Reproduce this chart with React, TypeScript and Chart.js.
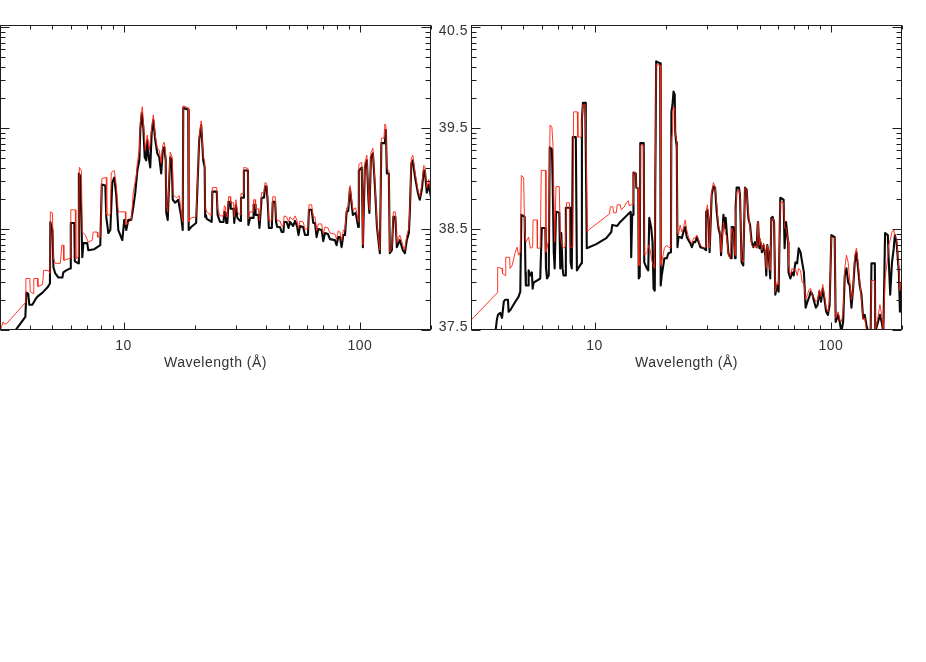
import React, { useEffect, useRef } from 'react';
import { Chart, registerables } from 'chart.js';

Chart.register(...registerables);

// ---- axis settings / labels ----
const X_MIN = 3;
const X_MAX = 200;
const Y_MIN = 37.5;
const Y_MAX = 40.52;
const xMajorTicks = [10, 100];
const xTickLabels = ['10', '100'];
const xMinorTicks = [4, 5, 6, 7, 8, 9, 20, 30, 40, 50, 60, 70, 80, 90, 200];
const yMajorTicks = [37.5, 38.5, 39.5, 40.5];
const yTickLabels = ['37.5', '38.5', '39.5', '40.5'];
const xTitle = 'Wavelength (Å)';

// ---- left panel: [wavelength (Å), value] ----
const leftBlack: [number, number][] = [
  [3.47, 37.49], [3.84, 37.63], [3.88, 37.87], [3.95, 37.86], [3.99, 37.75], [4.11, 37.75], [4.23, 37.80], [4.32, 37.83], [4.54, 37.87], [4.76, 37.92],
  [4.88, 37.96], [4.90, 38.57], [5.00, 38.49], [5.05, 38.12], [5.14, 38.06], [5.30, 38.02], [5.51, 38.02], [5.56, 38.07], [5.72, 38.09], [5.95, 38.11],
  [5.98, 38.56], [6.19, 38.56], [6.22, 38.18], [6.44, 38.16], [6.47, 39.05], [6.56, 39.02], [6.69, 38.22], [6.76, 38.36], [7.02, 38.36], [7.09, 38.29],
  [7.52, 38.30], [7.97, 38.34], [8.09, 38.94], [8.37, 38.93], [8.45, 38.62], [8.62, 38.46], [8.79, 38.49], [8.96, 38.96], [9.13, 39.01], [9.31, 38.84],
  [9.50, 38.49], [9.88, 38.39], [10.07, 38.59], [10.27, 38.49], [10.47, 38.59], [10.78, 38.59], [11.0, 38.72], [11.21, 38.86], [11.44, 39.08], [11.66, 39.18],
  [11.77, 39.48], [11.94, 39.65], [12.12, 39.51], [12.29, 39.21], [12.47, 39.18], [12.59, 39.38], [12.78, 39.21], [12.97, 39.11], [13.16, 39.46], [13.36, 39.58],
  [13.62, 39.38], [13.89, 39.25], [14.16, 39.21], [14.43, 39.05], [14.65, 39.28], [14.87, 39.31], [15.08, 39.18], [15.16, 38.66], [15.38, 38.59], [15.53, 38.86],
  [15.76, 39.21], [15.99, 39.18], [16.15, 38.79], [16.54, 38.76], [17.04, 38.79], [17.54, 38.62], [17.80, 38.49], [17.89, 39.70], [18.77, 39.68], [18.86, 38.49],
  [19.32, 38.52], [20.28, 38.56], [20.89, 39.38], [21.31, 39.53], [21.73, 39.18], [22.04, 39.11], [22.15, 38.62], [22.3, 38.64], [22.5, 38.60], [23.6, 38.57],
  [23.75, 38.87], [24.8, 38.87], [25.0, 38.64], [25.6, 38.57], [26.5, 38.57], [26.7, 38.67], [27.0, 38.66], [27.2, 38.56], [27.5, 38.56], [27.8, 38.77],
  [28.25, 38.77], [28.4, 38.70], [29.2, 38.70], [29.4, 38.56], [29.9, 38.74], [30.3, 38.61], [31.1, 38.58], [31.4, 38.81], [32.1, 38.81], [32.3, 39.08],
  [33.6, 39.08], [33.75, 38.54], [34.3, 38.61], [35.4, 38.61], [35.5, 38.74], [36.0, 38.74], [36.2, 38.64], [37.2, 38.64], [37.6, 38.51], [38.4, 38.81],
  [39.3, 38.81], [39.7, 38.92], [40.3, 38.92], [40.8, 38.74], [41.2, 38.51], [42.4, 38.51], [42.8, 38.77], [43.8, 38.77], [44.2, 38.57], [44.7, 38.52],
  [45.9, 38.52], [46.7, 38.47], [47.5, 38.47], [47.8, 38.57], [49.0, 38.57], [49.9, 38.51], [50.6, 38.57], [52.2, 38.53], [53.2, 38.58], [54.3, 38.52],
  [55.0, 38.44], [55.8, 38.53], [57.5, 38.52], [58.6, 38.44], [60.3, 38.44], [60.9, 38.69], [62.5, 38.69], [63.5, 38.56], [64.6, 38.56], [65.6, 38.42],
  [66.7, 38.50], [68.9, 38.49], [70.0, 38.38], [71.2, 38.46], [73.3, 38.45], [74.7, 38.40], [78.4, 38.39], [79.7, 38.34], [81.0, 38.42], [82.4, 38.42],
  [83.7, 38.32], [85.1, 38.44], [86.5, 38.44], [87.9, 38.67], [89.3, 38.68], [90.8, 38.90], [93.4, 38.64], [96.0, 38.66], [98.4, 38.52], [99.0, 39.08],
  [101.9, 39.11], [103.0, 38.32], [105.0, 39.11], [107.1, 39.18], [108.7, 38.79], [109.7, 38.66], [111.4, 39.21], [113.6, 39.25], [115.8, 38.92], [118.1, 38.52],
  [121.5, 38.26], [123.3, 39.35], [127.6, 39.35], [128.8, 39.48], [130.1, 39.05], [132.6, 39.05], [133.9, 38.26], [136.6, 38.29], [138.6, 38.62], [141.3, 38.62],
  [143.4, 38.32], [147.6, 38.39], [152.0, 38.29], [155.0, 38.26], [158.0, 38.39], [161.2, 38.46], [162.7, 38.66], [165.1, 39.15], [167.5, 39.18], [170.8, 39.03],
  [175.9, 38.86], [179.3, 38.79], [182.9, 38.89], [186.5, 39.08], [188.3, 39.08], [192.0, 38.86], [195.8, 38.94], [199.6, 38.82],
];

const leftRed: [number, number][] = [
  [3.01, 37.49], [3.09, 37.58], [3.13, 37.56], [3.19, 37.56], [3.84, 37.77], [3.86, 38.01], [4.01, 38.01], [4.03, 37.88], [4.15, 37.86], [4.17, 38.01],
  [4.32, 38.01], [4.34, 37.93], [4.54, 37.95], [4.59, 38.09], [4.81, 38.09], [4.88, 38.06], [4.90, 38.67], [5.00, 38.66], [5.05, 38.21], [5.14, 38.16],
  [5.40, 38.16], [5.48, 38.34], [5.56, 38.34], [5.59, 38.19], [5.95, 38.21], [5.98, 38.69], [6.25, 38.69], [6.28, 38.21], [6.44, 38.22], [6.50, 39.11],
  [6.63, 39.08], [6.69, 38.47], [6.89, 38.44], [7.09, 38.37], [7.37, 38.39], [7.44, 38.47], [7.74, 38.47], [7.78, 38.42], [8.01, 38.42], [8.09, 39.00],
  [8.45, 39.01], [8.49, 38.64], [8.79, 38.64], [8.87, 39.06], [9.13, 39.08], [9.31, 38.94], [9.50, 38.67], [10.17, 38.67], [10.22, 38.54], [10.57, 38.57],
  [10.78, 38.59], [11.0, 38.87], [11.32, 39.03], [11.44, 39.16], [11.66, 39.28], [11.77, 39.56], [12.0, 39.71], [12.12, 39.58], [12.35, 39.28], [12.59, 39.43],
  [12.84, 39.28], [13.16, 39.50], [13.36, 39.63], [13.62, 39.43], [13.89, 39.30], [14.16, 39.28], [14.43, 39.15], [14.65, 39.33], [14.87, 39.36], [15.08, 39.23],
  [15.16, 38.74], [15.38, 38.67], [15.53, 38.92], [15.76, 39.26], [16.07, 39.21], [16.23, 38.84], [16.71, 38.81], [17.20, 38.83], [17.54, 38.67], [17.80, 38.57],
  [17.89, 39.72], [18.77, 39.70], [18.86, 38.57], [19.32, 38.61], [20.28, 38.62], [20.89, 39.41], [21.31, 39.57], [21.73, 39.21], [22.04, 39.18], [22.15, 38.69],
  [22.3, 38.70], [22.5, 38.67], [23.6, 38.63], [23.75, 38.91], [24.8, 38.91], [25.0, 38.70], [25.6, 38.63], [26.5, 38.63], [26.7, 38.73], [27.0, 38.72],
  [27.2, 38.62], [27.5, 38.62], [27.8, 38.82], [28.25, 38.82], [28.4, 38.76], [29.2, 38.76], [29.4, 38.62], [29.9, 38.79], [30.3, 38.67], [31.1, 38.64],
  [31.4, 38.85], [32.1, 38.85], [32.3, 39.11], [33.6, 39.10], [33.75, 38.60], [34.3, 38.67], [35.4, 38.67], [35.5, 38.79], [36.0, 38.79], [36.2, 38.70],
  [37.2, 38.70], [37.6, 38.58], [38.4, 38.86], [39.3, 38.86], [39.7, 38.96], [40.3, 38.95], [40.8, 38.80], [41.2, 38.58], [42.4, 38.58], [42.8, 38.82],
  [43.8, 38.82], [44.2, 38.63], [44.7, 38.58], [45.9, 38.58], [46.7, 38.53], [47.5, 38.53], [47.8, 38.63], [49.0, 38.62], [49.9, 38.57], [50.6, 38.62],
  [52.2, 38.59], [53.2, 38.63], [54.3, 38.58], [55.0, 38.50], [55.8, 38.58], [57.5, 38.57], [58.6, 38.50], [60.3, 38.50], [60.9, 38.74], [62.5, 38.74],
  [63.5, 38.62], [64.6, 38.62], [65.6, 38.48], [66.7, 38.55], [68.9, 38.55], [70.0, 38.45], [71.2, 38.52], [73.3, 38.51], [74.7, 38.46], [78.4, 38.45],
  [79.7, 38.40], [81.0, 38.48], [82.4, 38.47], [83.7, 38.38], [85.1, 38.49], [86.5, 38.49], [87.9, 38.71], [89.3, 38.72], [90.8, 38.93], [93.4, 38.69],
  [96.0, 38.71], [98.4, 38.57], [99.0, 39.14], [101.9, 39.16], [103.0, 38.34], [105.0, 39.16], [107.1, 39.23], [108.7, 38.84], [109.7, 38.69], [111.4, 39.26],
  [113.6, 39.30], [115.8, 38.97], [118.1, 38.55], [121.5, 38.29], [123.3, 39.40], [126.4, 39.40], [127.6, 39.54], [128.8, 39.52], [130.1, 39.10], [132.6, 39.08],
  [133.9, 38.27], [136.6, 38.32], [138.6, 38.67], [141.3, 38.67], [143.4, 38.36], [147.6, 38.44], [152.0, 38.34], [155.0, 38.29], [158.0, 38.44], [161.2, 38.51],
  [162.7, 38.71], [165.1, 39.20], [167.5, 39.23], [170.8, 39.08], [175.9, 38.89], [179.3, 38.82], [182.9, 38.94], [186.5, 39.13], [188.3, 39.12], [192.0, 38.91],
  [195.8, 38.99], [199.6, 38.86],
];

// ---- right panel: [wavelength (Å), value] ----
const rightBlack: [number, number][] = [
  [3.81, 37.49], [3.86, 37.60], [3.90, 37.65], [3.99, 37.67], [4.06, 37.62], [4.13, 37.78], [4.19, 37.80], [4.30, 37.80], [4.33, 37.68], [4.41, 37.70],
  [4.62, 37.78], [4.77, 37.83], [4.85, 37.88], [4.90, 38.64], [5.06, 38.62], [5.10, 38.07], [5.12, 37.94], [5.23, 37.94], [5.26, 38.09], [5.35, 38.04],
  [5.43, 38.07], [5.47, 37.91], [5.52, 37.97], [5.71, 37.99], [5.89, 38.01], [5.98, 38.51], [6.19, 38.51], [6.23, 38.11], [6.29, 38.01], [6.40, 38.04],
  [6.46, 39.31], [6.60, 39.29], [6.65, 38.96], [6.72, 38.27], [6.78, 38.11], [6.87, 38.67], [7.09, 38.66], [7.16, 38.11], [7.23, 38.46], [7.32, 38.11],
  [7.39, 38.04], [7.52, 38.04], [7.56, 38.71], [7.88, 38.71], [7.92, 38.17], [8.01, 38.11], [8.09, 39.41], [8.33, 39.41], [8.42, 38.09], [8.79, 38.16],
  [8.84, 39.58], [8.93, 39.75], [9.13, 39.75], [9.18, 39.30], [9.27, 38.31], [10.17, 38.35], [11.21, 38.41], [11.77, 38.47], [11.88, 38.54], [12.47, 38.53],
  [12.84, 38.57], [13.36, 38.61], [13.76, 38.64], [14.23, 38.67], [14.29, 38.22], [14.38, 38.22], [14.43, 38.64], [14.57, 38.64], [14.61, 39.06], [14.94, 39.05],
  [15.01, 38.91], [15.31, 38.90], [15.38, 38.01], [15.53, 38.03], [15.61, 39.35], [16.15, 39.35], [16.23, 38.17], [16.64, 38.11], [16.87, 38.09], [17.04, 38.61],
  [17.37, 38.51], [17.59, 38.37], [17.77, 37.91], [17.98, 37.89], [18.06, 38.87], [18.23, 40.16], [18.95, 40.14], [19.05, 37.94], [19.24, 38.04], [19.75, 38.21],
  [20.20, 38.21], [20.54, 38.26], [21.05, 38.27], [21.14, 39.66], [21.37, 39.73], [21.59, 39.86], [21.84, 39.83], [21.94, 39.46], [22.15, 39.36], [22.28, 39.31],
  [22.43, 38.32], [22.65, 38.42], [23.02, 38.42], [23.39, 38.41], [23.78, 38.47], [24.18, 38.52], [24.56, 38.42], [24.97, 38.39], [25.40, 38.36], [25.81, 38.32],
  [26.24, 38.37], [26.69, 38.37], [27.11, 38.42], [27.57, 38.37], [28.04, 38.32], [28.98, 38.31], [29.64, 38.29], [29.66, 38.67], [30.03, 38.69], [30.32, 38.61],
  [30.68, 38.27], [31.31, 38.84], [31.83, 38.92], [32.37, 38.91], [32.88, 38.67], [33.43, 38.51], [34.0, 38.44], [34.31, 38.24], [35.10, 38.64], [35.68, 38.51],
  [35.89, 38.61], [36.25, 38.47], [36.85, 38.26], [37.46, 38.22], [37.82, 38.21], [38.04, 38.52], [38.67, 38.52], [39.30, 38.21], [39.53, 38.71], [39.92, 38.91],
  [40.85, 38.91], [41.25, 38.84], [41.89, 38.17], [42.59, 38.14], [43.31, 38.91], [44.02, 38.89], [44.75, 38.61], [45.50, 38.54], [46.23, 38.37], [46.99, 38.32],
  [47.75, 38.37], [48.52, 38.32], [49.0, 38.54], [49.19, 38.57], [49.8, 38.31], [50.3, 38.37], [51.1, 38.27], [51.9, 38.34], [52.8, 38.24], [53.3, 38.04],
  [53.8, 38.34], [54.5, 38.27], [55.4, 38.01], [55.96, 38.61], [56.7, 38.62], [57.5, 38.57], [58.2, 37.85], [59.2, 37.94], [60.1, 37.88], [61.1, 38.81],
  [63.1, 38.79], [63.7, 38.31], [64.6, 38.57], [65.9, 38.37], [66.2, 38.07], [67.4, 38.01], [68.5, 38.07], [69.6, 38.04], [70.8, 38.17], [72.0, 38.16],
  [73.1, 38.31], [74.4, 38.27], [75.6, 38.17], [76.9, 38.07], [78.2, 37.72], [79.6, 37.78], [80.8, 37.82], [82.2, 37.88], [83.6, 37.85], [85.0, 37.78],
  [86.4, 37.72], [87.9, 37.75], [89.4, 37.88], [90.9, 37.78], [92.4, 37.91], [93.9, 37.81], [95.5, 37.68], [97.2, 37.65], [98.8, 37.75], [100.5, 38.44],
  [103.8, 38.42], [104.8, 37.58], [107.3, 37.65], [109.0, 37.58], [110.8, 37.48], [112.7, 37.58], [114.5, 38.04], [116.4, 38.11], [118.4, 37.97], [120.2, 37.94],
  [122.2, 37.72], [124.2, 37.91], [126.2, 38.17], [128.3, 38.27], [130.4, 38.11], [132.5, 37.94], [134.7, 37.85], [136.9, 37.62], [139.1, 37.65], [141.4, 37.55],
  [143.8, 37.48], [147.4, 37.48], [148.5, 38.16], [153.5, 38.16], [154.1, 37.48], [161.3, 37.65], [164.0, 37.58], [166.8, 37.48], [169.6, 38.46], [174.2, 38.44],
  [175.4, 38.24], [178.3, 37.85], [181.4, 38.17], [184.6, 38.31], [186.5, 38.44], [189.7, 38.37], [194, 38.07], [196, 37.68], [197, 37.94], [200, 37.77],
];

const rightRed: [number, number][] = [
  [3.01, 37.60], [3.88, 37.87], [3.89, 38.12], [4.06, 38.11], [4.08, 38.06], [4.19, 38.04], [4.21, 38.22], [4.37, 38.22], [4.39, 38.11], [4.48, 38.14],
  [4.62, 38.27], [4.70, 38.32], [4.77, 38.24], [4.85, 38.27], [4.90, 39.03], [5.01, 39.01], [5.06, 38.49], [5.12, 38.37], [5.26, 38.42], [5.35, 38.31],
  [5.47, 38.32], [5.49, 38.59], [5.71, 38.59], [5.73, 38.31], [5.89, 38.31], [5.95, 39.08], [6.21, 39.08], [6.23, 38.27], [6.40, 38.39], [6.48, 39.53],
  [6.60, 39.51], [6.67, 39.33], [6.78, 38.37], [6.87, 38.92], [7.09, 38.92], [7.16, 38.44], [7.32, 38.31], [7.52, 38.32], [7.61, 38.76], [7.83, 38.76],
  [7.88, 38.32], [8.09, 38.32], [8.15, 39.66], [8.45, 39.66], [8.50, 39.41], [8.79, 39.41], [8.90, 39.73], [9.13, 39.73], [9.22, 39.26], [9.31, 38.47],
  [9.43, 38.49], [11.57, 38.65], [11.66, 38.72], [11.95, 38.72], [12.06, 38.66], [12.35, 38.66], [12.47, 38.74], [12.84, 38.74], [12.97, 38.69], [13.36, 38.72],
  [13.62, 38.76], [13.89, 38.78], [14.02, 38.73], [14.29, 38.74], [14.55, 38.74], [14.61, 39.06], [14.94, 39.05], [15.01, 38.91], [15.31, 38.90], [15.38, 38.14],
  [15.53, 38.14], [15.61, 39.33], [16.15, 39.33], [16.23, 38.24], [16.71, 38.27], [16.95, 38.34], [17.20, 38.29], [17.54, 38.17], [17.93, 38.11], [18.06, 38.87],
  [18.23, 40.13], [18.95, 40.12], [19.05, 38.14], [19.24, 38.17], [19.75, 38.31], [20.20, 38.34], [20.54, 38.32], [21.05, 38.31], [21.18, 39.38], [21.37, 39.46],
  [21.52, 39.71], [21.84, 39.70], [21.94, 39.46], [22.28, 39.36], [22.43, 38.47], [22.65, 38.44], [23.02, 38.54], [23.39, 38.47], [23.78, 38.51], [24.18, 38.59],
  [24.56, 38.49], [24.97, 38.42], [25.40, 38.38], [25.81, 38.36], [26.24, 38.41], [26.69, 38.41], [27.11, 38.44], [27.57, 38.39], [28.04, 38.34], [28.98, 38.31],
  [29.64, 38.32], [29.66, 38.67], [30.03, 38.74], [30.32, 38.64], [30.68, 38.31], [31.31, 38.87], [31.83, 38.96], [32.37, 38.92], [32.88, 38.74], [33.43, 38.54],
  [34.0, 38.47], [34.31, 38.27], [35.10, 38.57], [35.68, 38.47], [36.25, 38.42], [36.85, 38.24], [37.46, 38.21], [38.04, 38.51], [38.67, 38.47], [39.30, 38.24],
  [39.53, 38.64], [39.92, 38.87], [40.85, 38.89], [41.25, 38.82], [41.89, 38.21], [42.59, 38.17], [43.31, 38.91], [44.02, 38.87], [44.75, 38.67], [45.50, 38.51],
  [46.23, 38.34], [46.99, 38.32], [47.75, 38.34], [48.52, 38.31], [49.19, 38.57], [49.8, 38.34], [50.3, 38.41], [51.1, 38.29], [51.9, 38.36], [52.8, 38.27],
  [53.3, 38.11], [53.8, 38.34], [54.5, 38.29], [55.4, 38.09], [55.96, 38.59], [56.7, 38.61], [57.5, 38.57], [58.2, 37.88], [59.2, 37.97], [60.1, 37.95],
  [61.1, 38.77], [63.1, 38.76], [63.7, 38.51], [64.6, 38.51], [65.9, 38.39], [66.2, 38.14], [67.4, 38.04], [68.5, 38.11], [69.6, 38.09], [70.8, 38.11],
  [72.0, 38.04], [73.1, 38.11], [74.4, 38.09], [75.6, 37.97], [76.9, 37.97], [78.2, 37.80], [79.6, 37.85], [80.8, 37.90], [82.2, 37.91], [83.6, 37.83],
  [85.0, 37.82], [86.4, 37.78], [87.9, 37.80], [89.4, 37.90], [90.9, 37.83], [92.4, 37.95], [93.9, 37.85], [95.5, 37.72], [97.2, 37.68], [98.8, 37.80],
  [100.5, 38.42], [103.8, 38.41], [104.8, 37.62], [107.3, 37.68], [109.0, 37.60], [110.8, 37.58], [112.7, 37.68], [114.5, 38.11], [116.4, 38.24], [118.4, 38.17],
  [120.2, 37.99], [122.2, 37.80], [124.2, 37.90], [126.2, 38.24], [128.3, 38.31], [130.4, 38.17], [132.5, 37.99], [134.7, 37.80], [136.9, 37.60], [139.1, 37.62],
  [141.4, 37.50], [143.8, 37.48], [147.4, 37.50], [148.5, 37.99], [153.5, 37.99], [154.1, 37.50], [157.5, 37.60], [161.3, 37.75], [164.0, 37.65], [166.8, 37.50],
  [169.6, 38.01], [174.2, 38.22], [175.4, 38.34], [178.3, 38.39], [181.4, 38.47], [184.6, 38.49], [186.5, 38.43], [189.7, 38.41], [194, 38.11], [196, 37.89],
  [197, 37.97], [200, 37.87],
];

const FONT = '14px "Liberation Sans", Arial, Helvetica, sans-serif';

function yMinorTicks(): number[] {
  const out: number[] = [];
  for (let i = 0; i < yMajorTicks.length - 1; i++) {
    for (let k = 2; k <= 9; k++) out.push(yMajorTicks[i] + Math.log10(k));
  }
  return out;
}

function makeFramePlugin(showYLabels: boolean) {
  return {
    id: 'idlFrame',
    afterDraw(chart: any) {
      const { ctx, chartArea: a, scales } = chart;
      const xs = scales.x;
      const ys = scales.y;
      ctx.save();
      ctx.strokeStyle = '#1e1e1e';
      ctx.lineWidth = 1;
      const L = Math.round(a.left) + 0.5;
      const R = Math.round(a.right) - 0.5;
      const T = Math.round(a.top) + 0.5;
      const B = Math.round(a.bottom) - 0.5;
      ctx.strokeRect(L, T, R - L, B - T);
      ctx.beginPath();
      const xt = (v: number, len: number) => {
        const p = Math.round(xs.getPixelForValue(v)) + 0.5;
        ctx.moveTo(p, B); ctx.lineTo(p, B - len);
        ctx.moveTo(p, T); ctx.lineTo(p, T + len);
      };
      xMajorTicks.forEach((v) => xt(v, 7));
      xMinorTicks.forEach((v) => xt(v, 4));
      const yt = (v: number, len: number) => {
        const p = Math.round(ys.getPixelForValue(v)) + 0.5;
        ctx.moveTo(L, p); ctx.lineTo(L + len, p);
        ctx.moveTo(R, p); ctx.lineTo(R - len, p);
      };
      yMajorTicks.forEach((v) => yt(v, 9));
      yMinorTicks().forEach((v) => yt(v, 5));
      ctx.stroke();

      ctx.fillStyle = '#333';
      ctx.font = FONT;
      try { (ctx as any).letterSpacing = '0.5px'; } catch (e) { /* ignore */ }
      ctx.textAlign = 'center';
      ctx.textBaseline = 'middle';
      xMajorTicks.forEach((v, i) => ctx.fillText(xTickLabels[i], xs.getPixelForValue(v), a.bottom + 16));
      ctx.fillText(xTitle, (a.left + a.right) / 2, a.bottom + 33);
      if (showYLabels) {
        ctx.textAlign = 'right';
        yMajorTicks.forEach((v, i) => {
          let p = ys.getPixelForValue(v);
          p = Math.min(Math.max(p, a.top + 6), a.bottom - 3);
          ctx.fillText(yTickLabels[i], a.left - 3, p);
        });
      }
      ctx.restore();
    },
  };
}

function buildChart(canvas: HTMLCanvasElement, black: [number, number][], red: [number, number][], padding: any, showYLabels: boolean) {
  return new Chart(canvas, {
    type: 'line',
    data: {
      datasets: [
        {
          data: black.map(([x, y]) => ({ x, y })),
          borderColor: '#0a0a0a',
          borderWidth: 2.1,
          pointRadius: 0,
          tension: 0,
          borderJoinStyle: 'round',
          order: 1,
        },
        {
          data: red.map(([x, y]) => ({ x, y })),
          borderColor: 'rgba(255,35,15,0.9)',
          borderWidth: 1,
          pointRadius: 0,
          tension: 0,
          order: 0,
        },
      ],
    } as any,
    options: {
      animation: false,
      responsive: false,
      maintainAspectRatio: false,
      events: [],
      layout: { padding },
      scales: {
        x: { type: 'logarithmic', min: X_MIN, max: X_MAX, display: false },
        y: { type: 'linear', min: Y_MIN, max: Y_MAX, display: false },
      },
      plugins: { legend: { display: false }, tooltip: { enabled: false }, title: { display: false } },
    } as any,
    plugins: [makeFramePlugin(showYLabels)],
  });
}

export default function App() {
  const leftRef = useRef<HTMLCanvasElement>(null);
  const rightRef = useRef<HTMLCanvasElement>(null);

  useEffect(() => {
    const c1 = buildChart(leftRef.current!, leftBlack, leftRed, { left: 0, top: 25, right: 9, bottom: 50 }, false);
    const c2 = buildChart(rightRef.current!, rightBlack, rightRed, { left: 41, top: 25, right: 24, bottom: 50 }, true);
    return () => {
      c1.destroy();
      c2.destroy();
    };
  }, []);

  return (
    <div style={{ position: 'fixed', left: 0, top: 0, width: 926, height: 662, background: '#fff', overflow: 'hidden' }}>
      <canvas ref={leftRef} width={440} height={380} style={{ position: 'absolute', left: 0, top: 0, width: 440, height: 380 }} />
      <canvas ref={rightRef} width={496} height={380} style={{ position: 'absolute', left: 430, top: 0, width: 496, height: 380 }} />
    </div>
  );
}
